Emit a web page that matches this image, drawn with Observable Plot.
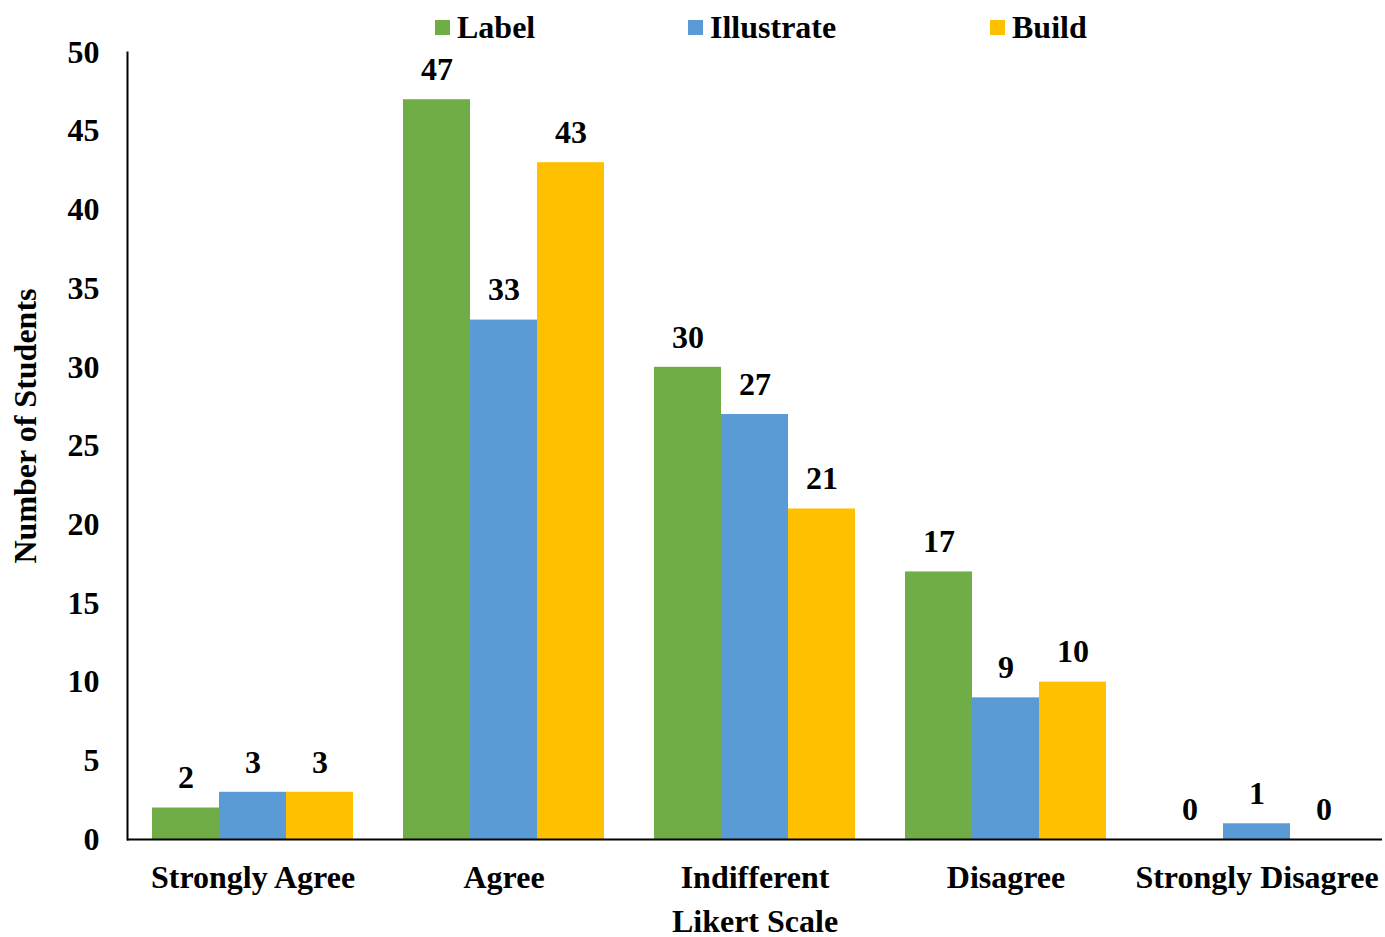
<!DOCTYPE html>
<html>
<head>
<meta charset="utf-8">
<script src="https://cdn.jsdelivr.net/npm/d3@7"></script>
<script src="https://cdn.jsdelivr.net/npm/@observablehq/plot@0.6"></script>
<style>
  html, body { margin: 0; padding: 0; background: #fff; }
  #chart { position: relative; width: 1385px; height: 937px; font-family: "Liberation Serif", "Times New Roman", serif; font-weight: bold; }
  #chart svg { position: absolute; left: 0; top: 0; }
  .legend-item { position: absolute; top: 10px; font-size: 32px; line-height: 34px; display: flex; align-items: center; color: #000; }
  .legend-item .swatch { width: 15px; height: 15px; margin-right: 7px; display: inline-block; }
</style>
</head>
<body>
<div id="chart"></div>
<script>
// Likert responses for the three activities
const categories = ["Strongly Agree", "Agree", "Indifferent", "Disagree", "Strongly Disagree"];
const seriesNames = ["Label", "Illustrate", "Build"];
const labelCounts = [2, 47, 30, 17, 0];
const illustrateCounts = [3, 33, 27, 9, 1];
const buildCounts = [3, 43, 21, 10, 0];
const yTicks = [0, 5, 10, 15, 20, 25, 30, 35, 40, 45, 50];
const seriesColors = ["#70AD47", "#5B9BD5", "#FFC000"];
const legendLeft = [435, 688, 990];

const countsBySeries = [labelCounts, illustrateCounts, buildCounts];
const rows = [];
categories.forEach((category, i) => {
  seriesNames.forEach((series, j) => {
    rows.push({category, series, value: countsBySeries[j][i]});
  });
});

const chart = document.getElementById("chart");

const plot = Plot.plot({
  width: 1385,
  height: 937,
  marginTop: 52,
  marginBottom: 98,
  marginLeft: 125,
  marginRight: 2,
  style: {
    fontFamily: "'Liberation Serif', 'Times New Roman', serif",
    fontWeight: "bold",
    fontSize: "32px",
    color: "#000",
    background: "transparent"
  },
  // contiguous category panels; the gap between groups comes from the inner series scale
  fx: {domain: categories, padding: 0, label: null},
  x: {domain: seriesNames, paddingInner: 0, paddingOuter: 0.37, axis: null},
  y: {domain: [0, 50], label: null},
  color: {domain: seriesNames, range: seriesColors},
  marks: [
    Plot.barY(rows, {fx: "category", x: "series", y: "value", fill: "series"}),
    Plot.text(rows, {fx: "category", x: "series", y: "value", text: d => String(d.value), dy: -30, lineAnchor: "middle", fill: "#000"}),
    Plot.axisY({ticks: yTicks, tickSize: 0, tickPadding: 28, label: null}),
    Plot.axisFx({anchor: "bottom", tickSize: 0, tickPadding: 26, lineAnchor: "top", label: null}),
    Plot.ruleY([0], {stroke: "#000", strokeWidth: 2}),
    Plot.frame({anchor: "left", facetAnchor: "left", stroke: "#000", strokeWidth: 2}),
    Plot.text(["Number of Students"], {frameAnchor: "left", textAnchor: "middle", rotate: -90, dx: -102, dy: -20, facet: "super", fill: "#000"}),
    Plot.text(["Likert Scale"], {frameAnchor: "bottom", dy: 92, facet: "super", fill: "#000"})
  ]
});
chart.appendChild(plot);

// legend row above the plot
seriesNames.forEach((name, i) => {
  const item = document.createElement("div");
  item.className = "legend-item";
  item.style.left = legendLeft[i] + "px";
  const sw = document.createElement("span");
  sw.className = "swatch";
  sw.style.background = seriesColors[i];
  item.appendChild(sw);
  item.appendChild(document.createTextNode(name));
  chart.appendChild(item);
});
</script>
</body>
</html>
